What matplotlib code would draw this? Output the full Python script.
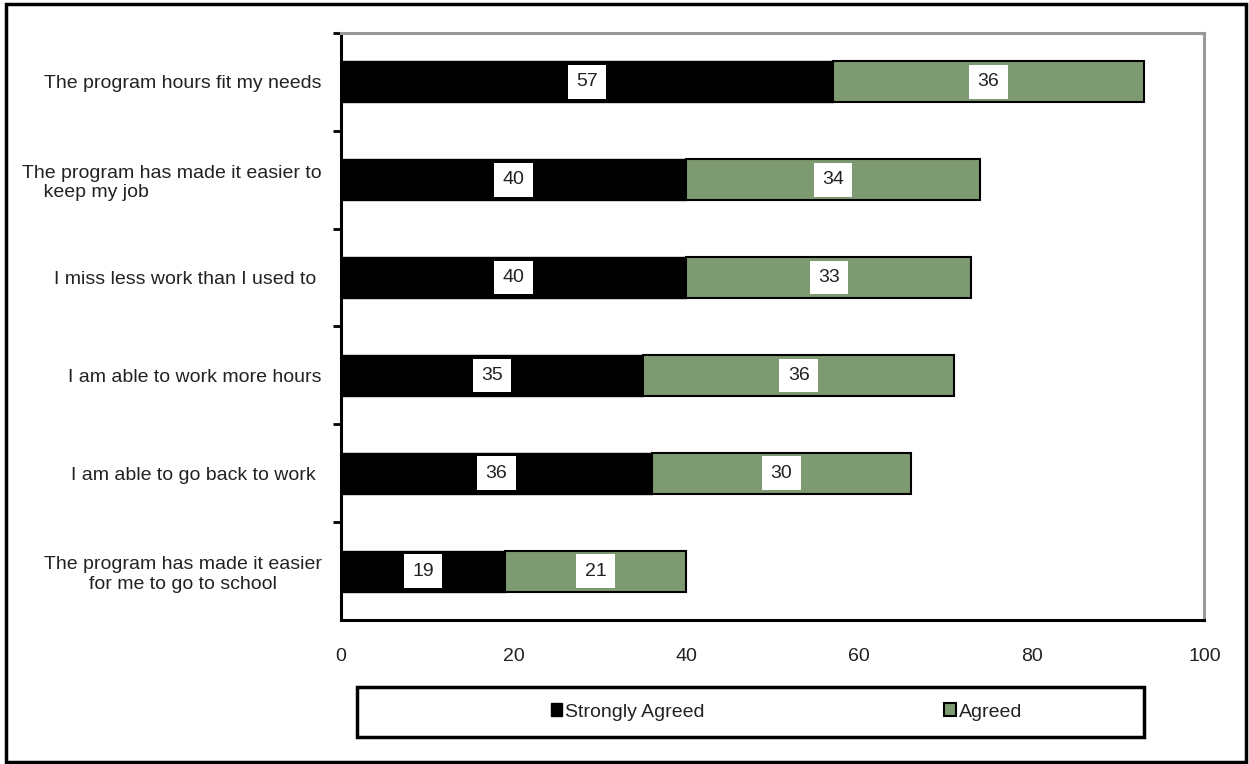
import matplotlib.pyplot as plt
from matplotlib.patches import Patch, Rectangle
import numpy as np

plt.rcParams['font.family'] = ['Liberation Sans', 'DejaVu Sans']

categories = ['The program hours fit my needs',
              'The program has made it easier to\n    keep my job',
              'I miss less work than I used to ',
              'I am able to work more hours',
              'I am able to go back to work ',
              'The program has made it easier\nfor me to go to school']
strongly_agreed = [57, 40, 40, 35, 36, 19]
agreed = [36, 34, 33, 36, 30, 21]
x_ticks = [0, 20, 40, 60, 80, 100]

green = '#7E9A70'
txt = '#222222'
fs = 14

fig = plt.figure(figsize=(12.49, 7.64), dpi=100)
ax = fig.add_axes([0.273, 0.1885, 0.6913, 0.7683])

y = np.arange(len(categories))
ax.barh(y, strongly_agreed, height=0.42, color='black', edgecolor='black', linewidth=1)
ax.barh(y, agreed, left=strongly_agreed, height=0.42, color=green, edgecolor='black', linewidth=1.5)

# value labels in white boxes
for i in range(len(categories)):
    ax.text(strongly_agreed[i] / 2, y[i], str(strongly_agreed[i]), ha='center', va='center',
            fontsize=fs, color=txt,
            bbox=dict(facecolor='white', edgecolor='none', pad=6))
    ax.text(strongly_agreed[i] + agreed[i] / 2, y[i], str(agreed[i]), ha='center', va='center',
            fontsize=fs, color=txt,
            bbox=dict(facecolor='white', edgecolor='none', pad=6))

ax.set_xlim(0, 100)
ax.set_ylim(len(categories) - 0.5, -0.5)
ax.set_xticks(x_ticks)
ax.set_xticklabels([str(v) for v in x_ticks], fontsize=fs, color=txt)
ax.tick_params(axis='x', length=0, pad=20)

ax.set_yticks(y)
ax.set_yticklabels(categories, fontsize=fs, color=txt)
for lab in ax.get_yticklabels():
    if 'keep my job' in lab.get_text():
        lab.set_multialignment('left')
    else:
        lab.set_multialignment('center')
ax.set_yticks(np.arange(-0.5, len(categories) - 1), minor=True)
ax.tick_params(axis='y', which='major', length=0, pad=14)
ax.tick_params(axis='y', which='minor', length=6, width=2, direction='out', color='black')

ax.spines['left'].set_color('black')
ax.spines['left'].set_linewidth(2.2)
ax.spines['bottom'].set_color('black')
ax.spines['bottom'].set_linewidth(2.2)
ax.spines['top'].set_color('#999999')
ax.spines['top'].set_linewidth(2.2)
ax.spines['right'].set_color('#999999')
ax.spines['right'].set_linewidth(2.2)

# legend box
fig.patches.append(Rectangle((357 / 1249, 1 - 737 / 764), 787 / 1249, 50 / 764,
                             transform=fig.transFigure, facecolor='white',
                             edgecolor='black', linewidth=2.5, zorder=1))
handles = [Patch(facecolor='black', edgecolor='black', label='Strongly Agreed'),
           Patch(facecolor=green, edgecolor='black', linewidth=1.5, label='Agreed')]
fig.legend(handles=handles, loc='center left', bbox_to_anchor=(541 / 1249, 1 - 712 / 764),
           ncol=2, frameon=False, fontsize=fs, handlelength=0.6, handleheight=0.6,
           handletextpad=0.15, columnspacing=12.3, labelcolor=txt, borderpad=0)

# outer frame
fig.patches.append(Rectangle((6 / 1249, 2 / 764), 1240 / 1249, 758 / 764,
                             transform=fig.transFigure, facecolor='none',
                             edgecolor='black', linewidth=2.5, zorder=0))

plt.savefig('out.png', dpi=100)
